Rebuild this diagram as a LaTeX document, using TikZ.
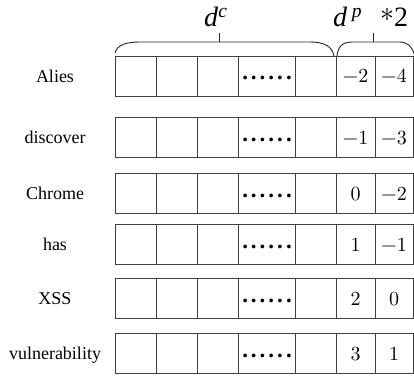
\documentclass[tikz,border=0pt]{standalone}
\usepackage{fontspec}
\setmainfont{Liberation Serif}
\newfontfamily\lmfont{lmroman10-regular.otf}
\usepackage{tikz}

\tikzset{
  cell/.style={draw=black!75, line width=0.8pt},
  brace/.style={draw=black!85, line width=0.9pt},
  word/.style={anchor=base, inner sep=0pt, font=\fontsize{18}{20}\selectfont},
  dotsrow/.style={anchor=base, inner sep=0pt, font=\fontsize{23}{25}\selectfont},
  num/.style={anchor=base, inner sep=0pt, font=\lmfont\fontsize{20}{22}\selectfont},
  head/.style={anchor=base west, inner sep=0pt, font=\fontsize{28}{30}\selectfont},
}
\newcommand{\sixdots}{\textbf{.\kern3pt.\kern3pt.\kern3pt.\kern3pt.\kern3pt.}}

\begin{document}
\begin{tikzpicture}[x=1pt,y=-1pt]
      \useasboundingbox (0,0) rectangle (414,377);

      % headings over the two blocks
      \node[head] (dc) at (204,27) {\textit{d}\textsuperscript{\textit{c}}};
      \node[head] (dp) at (333,27) {\textit{d}\,\textsuperscript{\textit{p}}};
      \node[head] (times2) at (380,27) {{\lmfont\raisebox{-3pt}{*}}2};

      \draw[brace] (115,53) .. controls (117,45) and (126,42) .. (140,42)
                   -- (310,42) .. controls (324,42) and (332,46) .. (334,56);
      \draw[brace] (219,42) -- (219,33);
      \draw[brace] (337,56) .. controls (338,47) and (342,42) .. (352,42)
                   -- (399,42) .. controls (407,42) and (412,46) .. (414,54);
      \draw[brace] (373,42) -- (373,33);

      % one row of cells per word
      \foreach \w/\top/\a/\b [count=\i] in {Alies/56/−2/−4, discover/117/−1/−3,
          Chrome/173/0/−2, has/224/1/−1, XSS/278/2/0, vulnerability/333/3/1} {
        \node[word] (w\i) at (55,\top+26.5) {\w};
        \foreach \xa/\xb in {115/156,156/197,197/238,238/295,295/336,336/375,375/413}
          \draw[cell] (\xa,\top) rectangle (\xb,\top+40.5);
        \node[dotsrow] (dots\i) at (267,\top+24) {\sixdots};
        \node[num] (p\i) at (355.5,\top+27) {\a};
        \node[num] (q\i) at (394,\top+27) {\b};
      }
    \end{tikzpicture}
\end{document}
